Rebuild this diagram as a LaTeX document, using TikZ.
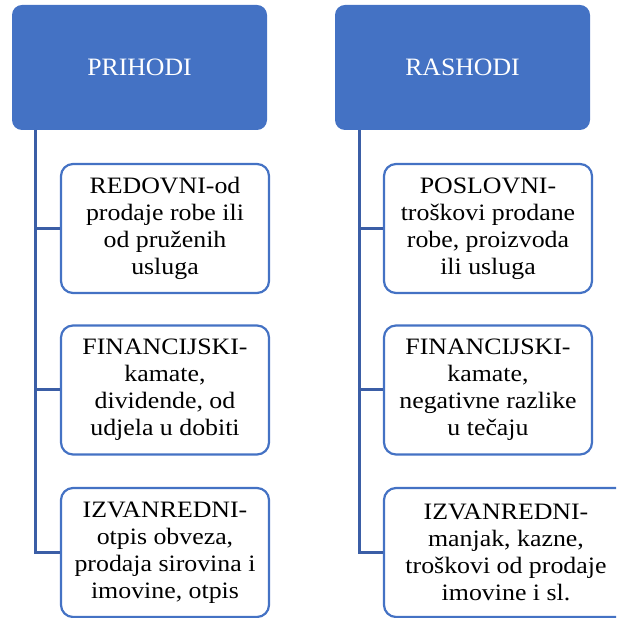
\documentclass[tikz,border=0pt]{standalone}
\usepackage{fontspec}
\setmainfont{Liberation Serif}
\newfontfamily\boxfont[FakeStretch=1.1]{Liberation Serif}
\newfontfamily\headfont[FakeStretch=1.03]{Liberation Serif}
\definecolor{hdblue}{HTML}{4472C4}
\definecolor{lnblue}{HTML}{3B5EA6}
\tikzset{
  header/.style={rectangle, rounded corners=10pt, fill=hdblue, draw=none,
    minimum width=255pt, minimum height=125pt, inner sep=0pt,
    text=white, font=\headfont\fontsize{25}{29}\selectfont},
  item/.style={rectangle, rounded corners=12pt, fill=white, draw=hdblue, line width=2.2pt,
    minimum width=208pt, minimum height=129pt, inner sep=0pt, align=center,
    font=\boxfont\fontsize{23.5}{27}\selectfont},
  conn/.style={draw=lnblue, line width=3pt}
}
\begin{document}
\begin{tikzpicture}[x=1pt,y=1pt]
\useasboundingbox (0,0) rectangle (616,618);
\clip (0,0) rectangle (616,618);
% headers
\node[header] (lh) at (139.5,550.5) {PRIHODI};
\node[header] (rh) at (462.5,550.5) {RASHODI};
% left items
\node[item] (l1) at (165,389.5) {REDOVNI-od\\prodaje robe ili\\od pruženih\\usluga};
\node[item] (l2) at (165,228) {FINANCIJSKI-\\kamate,\\dividende, od\\udjela u dobiti};
\node[item] (l3) at (165,65.5) {IZVANREDNI-\\otpis obveza,\\prodaja sirovina i\\imovine, otpis};
% right items
\node[item] (r1) at (488,389.5) {POSLOVNI-\\troškovi prodane\\robe, proizvoda\\ili usluga};
\node[item] (r2) at (488,228) {FINANCIJSKI-\\kamate,\\negativne razlike\\u tečaju};
\node[item, minimum width=244pt] (r3) at (506,65.5) {IZVANREDNI-\\manjak, kazne,\\troškovi od prodaje\\imovine i sl.};
% connectors
\coordinate (lt) at (35.5,488);
\coordinate (rt) at (359,488);
\draw[conn] (lt) |- (l3.west);
\draw[conn] (lt |- l1.west) -- (l1.west);
\draw[conn] (lt |- l2.west) -- (l2.west);
\draw[conn] (rt) |- (r3.west);
\draw[conn] (rt |- r1.west) -- (r1.west);
\draw[conn] (rt |- r2.west) -- (r2.west);
\end{tikzpicture}
\end{document}
